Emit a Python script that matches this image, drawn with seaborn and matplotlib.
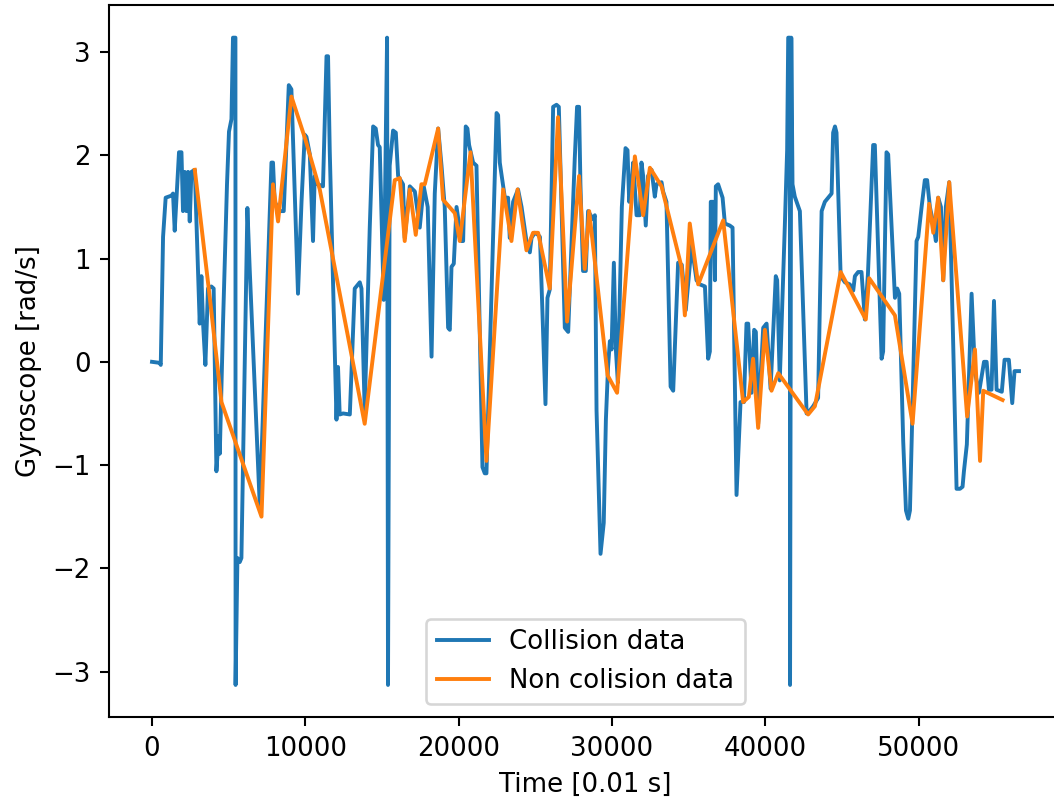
import matplotlib
matplotlib.use("Agg")
import matplotlib.pyplot as plt
import seaborn as sns
import numpy as np

# Collision data (blue)
collision_time = [
    0, 500, 570, 720, 890, 1270, 1370, 1480, 1760, 1920, 2020, 2130, 2240, 2350, 2460, 2570, 2790,
    3110, 3220, 3330, 3480, 3650, 3870, 4020, 4200, 4350, 4420, 4630, 4890, 5020, 5180, 5280, 5440,
    5450, 5570, 5720, 5830, 6220, 6370, 7030, 7790, 7890, 8000, 8330, 8590, 8920, 9090, 9310, 9520,
    9750, 9960, 10070, 10290, 10500, 10610, 10810, 11150, 11380, 11480, 11590, 12030, 12130, 12240,
    12460, 12900, 13220, 13550, 13660, 13870, 14200, 14420, 14590, 14740, 14850, 15110, 15330, 15390,
    15500, 15720, 15900, 16050, 16370, 16480, 16810, 17140, 17460, 17720, 17980, 18230, 18440, 18660,
    18880, 19090, 19310, 19420, 19530, 19680, 19860, 20180, 20290, 20460, 20570, 20680, 20940, 21160,
    21550, 21700, 21810, 22470, 22570, 22680, 23010, 23220, 23330, 23550, 23870, 24100, 24420, 24640,
    24750, 24960, 25180, 25300, 25660, 25790, 25940, 26160, 26380, 26530, 26920, 27140, 27570, 27720,
    27850, 27940, 28110, 28290, 28440, 28770, 28880, 28990, 29250, 29460, 29600, 29740, 29860, 29970,
    30120, 30250, 30380, 30640, 30880, 31010, 31120, 31270, 31380, 31600, 31810, 31920, 32030, 32200,
    32350, 32580, 32790, 32900, 33230, 33330, 33550, 33820, 33990, 34310, 34550, 34810, 35190, 35510,
    35730, 36060, 36270, 36380, 36440, 36600, 36710, 36770, 36920, 37210, 37360, 37680, 37860, 38120,
    38380, 38600, 38770, 38880, 39100, 39270, 39380, 39530, 39860, 40080, 40340, 40680, 40770, 40940,
    41270, 41420, 41490, 41600, 41610, 41690, 41770, 41920, 42250, 42690, 42860, 43120, 43440, 43670,
    43880, 44320, 44420, 44540, 44640, 44910, 45190, 45510, 45730, 45840, 46050, 46270, 46490, 46690,
    47030, 47140, 47580, 47680, 47900, 48010, 48450, 48600, 48730, 48990, 49170, 49320, 49430, 49860,
    49970, 50190, 50400, 50550, 50730, 50950, 51120, 51270, 51450, 51600, 51770, 51990, 52230, 52470,
    52690, 52860, 52950, 53140, 53450, 53670, 53930, 54260, 54430, 54580, 54750, 54910, 55080, 55420,
    55600, 55880, 56100, 56250, 56540,
]
collision_gyro = [
    0.00, -0.01, -0.03, 1.21, 1.59, 1.61, 1.63, 1.27, 2.03, 2.03, 1.46, 1.84, 1.46, 1.84, 1.36, 1.84, 1.86,
    0.37, 0.83, 0.37, -0.03, 0.71, 0.73, 0.71, -1.06, -0.72, -0.89, 0.37, 1.72, 2.23, 2.35, 3.14, 3.14,
    -3.13, -1.90, -1.94, -1.90, 1.49, 0.90, -1.40, 1.93, 1.93, 1.55, 1.46, 1.46, 2.68, 2.64, 1.63, 0.66,
    1.55, 2.20, 2.18, 2.01, 1.17, 1.80, 1.72, 1.70, 2.96, 2.96, 2.05, -0.56, -0.05, -0.51,
    -0.50, -0.51, 0.71, 0.77, 0.71, -0.47, 1.30, 2.28, 2.26, 2.10, 2.08, 0.60, 3.14, -3.13,
    1.90, 2.24, 2.22, 1.80, 1.72, 1.20, 1.70, 1.65, 1.30, 1.70, 1.50, 0.05, 1.63, 2.26,
    1.90, 1.50, 0.33, 0.31, 0.92, 0.95, 1.50, 1.17, 1.17, 2.28, 2.26, 2.10, 1.93, 1.90,
    -1.02, -1.08, -1.08, 2.41, 2.39, 1.93, 1.59, 1.59, 1.20, 1.55, 1.67, 1.50, 1.17, 1.06,
    1.20, 1.25, 1.23, 1.21, -0.41, 0.62, 0.70, 2.47, 2.49, 2.47, 0.33, 0.29, 1.97, 2.47,
    2.47, 1.72, 0.88, 0.88, 1.46, 1.38, 1.42, -0.47, -1.86, -1.56, -0.56, -0.05, 0.20, 0.12,
    0.96, 0.12, -0.20, 1.50, 2.07, 2.05, 1.55, 1.72, 1.93, 1.42, 1.42, 1.93, 1.80, 1.32,
    1.80, 1.86, 1.60, 1.72, 1.74, 1.65, 1.55, -0.24, -0.28, 0.96, 0.94, 0.50, 1.13, 0.79,
    0.75, 0.73, 0.03, 0.10, 1.55, 1.55, 0.79, 1.70, 1.72, 1.59, 1.34, 1.32, 1.30, -1.29,
    -0.39, -0.39, 0.37, 0.37, -0.30, 0.31, 0.29, -0.60, 0.33, 0.37, -0.26, 0.83, 0.79, -0.18,
    1.32, 2.05, 3.14, 3.14, -3.13, 3.14, 1.72, 1.60, 1.46, -0.50, -0.48, -0.43, -0.35, 1.46,
    1.55, 1.63, 2.22, 2.28, 2.22, 0.83, 0.77, 0.75, 0.69, 0.83, 0.87, 0.87, 0.41, 0.85,
    2.10, 2.10, 0.03, 0.10, 2.03, 2.01, 0.62, 0.71, 0.66, -0.77, -1.44, -1.52, -1.44, 1.17,
    1.21, 1.50, 1.76, 1.76, 1.50, 1.34, 1.17, 1.59, 1.50, 0.79, 1.50, 1.74, 0.30, -1.23,
    -1.23, -1.21, -1.06, -0.80, 0.66, -0.10, -0.30, 0.00, 0.00, -0.27, -0.27, 0.59, -0.27, -0.29,
    0.02, 0.02, -0.40, -0.09, -0.09,
]

# Non collision data (orange)
noncollision_time = [
    2790, 3770, 4530, 7140, 7890, 8220, 9090, 10010, 10940, 13870, 15830, 16160, 16480, 16810, 17200,
    17570, 17790, 18660, 18980, 19750, 20070, 20770, 21810, 22900, 23440, 23840, 24420, 24850, 25180,
    25940, 26480, 27070, 27850, 28220, 28510, 29710, 30330, 31490, 32030, 32470, 33230, 34530, 34750,
    35070, 35620, 37250, 38550, 38920, 39200, 39530, 39970, 40400, 40840, 42790, 43230, 44910, 46550,
    46770, 48450, 49600, 50680, 50950, 51270, 51600, 51990, 53160, 53670, 54000, 54210, 55470,
]
noncollision_gyro = [
    1.86, 0.62, -0.39, -1.50, 1.72, 1.36, 2.57, 2.15, 1.67, -0.60, 1.76, 1.78, 1.17, 1.67, 1.23,
    1.72, 1.72, 2.26, 1.57, 1.44, 1.17, 2.03, -0.96, 1.67, 1.17, 1.67, 1.08, 1.25, 1.25,
    0.71, 2.37, 0.39, 1.80, 0.90, 1.46, -0.13, -0.30, 1.99, 1.42, 1.88, 1.70, 0.92, 0.45,
    1.34, 0.75, 1.37, -0.39, -0.34, 0.03, -0.64, 0.31, -0.28, -0.11, -0.51, -0.43, 0.87, 0.41,
    0.81, 0.45, -0.60, 1.53, 1.25, 1.59, 0.79, 1.74, -0.53, 0.12, -0.96, -0.28, -0.37,
]

series_labels = ["Collision data", "Non colision data"]
x_label = "Time [0.01 s]"
y_label = "Gyroscope [rad/s]"

plt.rcParams["font.family"] = ["DejaVu Sans"]
DPI = 187
fig = plt.figure(figsize=(1054 / DPI, 803 / DPI), dpi=DPI)
ax = fig.add_axes([0.1031, 0.1067, 0.9048, 0.8867])

sns.lineplot(x=np.array(collision_time), y=np.array(collision_gyro), ax=ax,
             sort=False, estimator=None, color="#1f77b4", linewidth=1.5,
             label=series_labels[0])
sns.lineplot(x=np.array(noncollision_time), y=np.array(noncollision_gyro), ax=ax,
             sort=False, estimator=None, color="#ff7f0e", linewidth=1.5,
             label=series_labels[1])

ax.set_xlabel(x_label)
ax.set_ylabel(y_label)
ax.set_xticks([0, 10000, 20000, 30000, 40000, 50000])
ax.set_yticks([-3, -2, -1, 0, 1, 2, 3])
ax.legend(loc="lower center")

fig.savefig("out.png", dpi=DPI)
